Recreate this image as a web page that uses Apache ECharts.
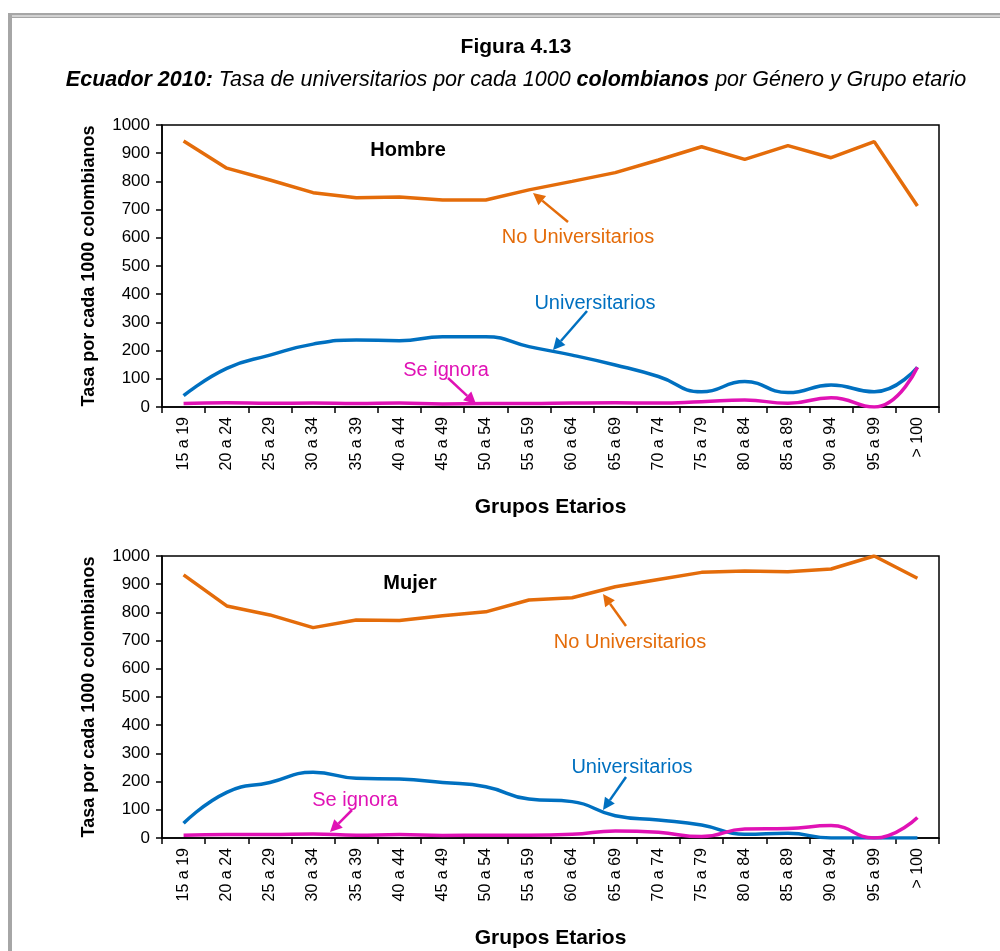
<!DOCTYPE html>
<html><head><meta charset="utf-8">
<script src="https://cdn.jsdelivr.net/npm/echarts@6/dist/echarts.min.js"></script>
<style>html,body{margin:0;padding:0;background:#fff}#c{width:1000px;height:951px}</style>
</head><body><div id="c"></div>
<script>
const categories = ['15 a 19','20 a 24','25 a 29','30 a 34','35 a 39','40 a 44','45 a 49','50 a 54','55 a 59','60 a 64','65 a 69','70 a 74','75 a 79','80 a 84','85 a 89','90 a 94','95 a 99','> 100'];
const yMin = 0, yMax = 1000, yStep = 100;

const hombreNoUniv = [943,847,805,760,742,745,734,734,770,800,831,876,923,878,927,884,941,713];
const hombreUniv   = [40,137,184,223,238,235,249,249,214,184,149,108,54,90,51,78,54,141];
const hombreIgnora = [12,15,13,14,12,14,11,12,12,14,15,14,19,25,13,33,0,141];

const mujerNoUniv  = [933,823,791,746,773,771,788,802,844,852,891,917,942,947,944,954,1000,921];
const mujerUniv    = [52,162,197,233,212,209,197,182,138,129,79,64,46,13,17,0,0,0];
const mujerIgnora  = [10,12,12,14,10,12,9,10,10,13,25,20,5,32,34,44,0,73];

const FONT = 'Arial, "Liberation Sans", sans-serif';
const C_ORANGE = '#E46C0A', C_BLUE = '#0070C0', C_MAG = '#E012B5';

function xAxisCfg(gi){
  return {
    type:'category', gridIndex:gi, data:categories, boundaryGap:true,
    axisLine:{show:true, lineStyle:{color:'#000', width:1.5}},
    axisTick:{show:true, inside:false, length:6, lineStyle:{color:'#000', width:1.5}},
    axisLabel:{rotate:90, color:'#000', fontFamily:FONT, fontSize:16, margin:10, interval:0},
    name:'Grupos Etarios', nameLocation:'middle', nameGap:90,
    nameTextStyle:{color:'#000', fontFamily:FONT, fontSize:21, fontWeight:'bold'}
  };
}
function yAxisCfg(gi){
  return {
    type:'value', gridIndex:gi, min:yMin, max:yMax, interval:yStep,
    axisLine:{show:true, lineStyle:{color:'#000', width:1.5}},
    axisTick:{show:true, inside:false, length:6, lineStyle:{color:'#000', width:1.5}},
    splitLine:{show:false},
    axisLabel:{color:'#000', fontFamily:FONT, fontSize:17, margin:12, formatter:function(v){return String(v);}},
    name:'Tasa por cada 1000 colombianos', nameLocation:'middle', nameGap:64,
    nameTextStyle:{color:'#000', fontFamily:FONT, fontSize:18, fontWeight:'bold'}
  };
}
function lineSeries(gi, data, color, smooth){
  return {type:'line', xAxisIndex:gi, yAxisIndex:gi, data:data, smooth:smooth,
    showSymbol:false, symbol:'none', silent:true,
    lineStyle:{color:color, width:3.5}, itemStyle:{color:color}};
}

function arrow(x1,y1,x2,y2,color){
  const dx=x2-x1, dy=y2-y1, L=Math.sqrt(dx*dx+dy*dy);
  const ux=dx/L, uy=dy/L, hl=12, hw=6;
  const bx=x2-ux*hl, by=y2-uy*hl;
  return [
    {type:'line', shape:{x1:x1,y1:y1,x2:bx,y2:by}, style:{stroke:color, lineWidth:2.5}, z:100},
    {type:'polygon', shape:{points:[[x2,y2],[bx-uy*hw,by+ux*hw],[bx+uy*hw,by-ux*hw]]}, style:{fill:color}, z:100}
  ];
}
function label(x,y,text,color,bold,size){
  return {type:'text', x:x, y:y, z:100, style:{text:text, fill:color, font:(bold?'bold ':'')+(size||20)+'px '+FONT, textAlign:'center', textVerticalAlign:'middle'}};
}

const graphics = [
  {type:'rect', shape:{x:8,y:13,width:992,height:2.5}, style:{fill:'#A6A6A6'}},
  {type:'rect', shape:{x:12,y:16.5,width:988,height:1.5}, style:{fill:'#A6A6A6'}},
  {type:'rect', shape:{x:8,y:13,width:4,height:938}, style:{fill:'#A6A6A6'}},
  {type:'text', x:516, y:47, style:{text:'Figura 4.13', font:'bold 21px '+FONT, fill:'#000', textAlign:'center', textVerticalAlign:'middle'}},
  {type:'text', x:516, y:80, style:{
    text:'{b|Ecuador 2010:}{i| Tasa de universitarios por cada 1000 }{b|colombianos}{i| por Género y Grupo etario}',
    textAlign:'center', textVerticalAlign:'middle',
    rich:{
      b:{font:'italic bold 21.5px '+FONT, fill:'#000'},
      i:{font:'italic 21.5px '+FONT, fill:'#000'}
    }}},
  label(408,150,'Hombre','#000',true,20),
  label(578,237,'No Universitarios',C_ORANGE,false,20),
  ...arrow(568,222,533,193,C_ORANGE),
  label(595,303,'Universitarios',C_BLUE,false,20),
  ...arrow(587,311,553,350,C_BLUE),
  label(446,370,'Se ignora',C_MAG,false,20),
  ...arrow(448,378,476,404,C_MAG),
  label(410,583,'Mujer','#000',true,20),
  label(630,642,'No Universitarios',C_ORANGE,false,20),
  ...arrow(626,626,603,594,C_ORANGE),
  label(632,767,'Universitarios',C_BLUE,false,20),
  ...arrow(626,777,603,810,C_BLUE),
  label(355,800,'Se ignora',C_MAG,false,20),
  ...arrow(352,810,330,832,C_MAG)
];

const chart = echarts.init(document.getElementById('c'), null, {renderer:'canvas'});
chart.setOption({
  animation:false,
  backgroundColor:'#fff',
  grid:[
    {left:162, top:125, width:777, height:282, show:true, borderColor:'#000', borderWidth:1.5, backgroundColor:'transparent'},
    {left:162, top:556, width:777, height:282, show:true, borderColor:'#000', borderWidth:1.5, backgroundColor:'transparent'}
  ],
  xAxis:[xAxisCfg(0), xAxisCfg(1)],
  yAxis:[yAxisCfg(0), yAxisCfg(1)],
  series:[
    lineSeries(0, hombreNoUniv, C_ORANGE, false),
    lineSeries(0, hombreUniv, C_BLUE, 0.5),
    lineSeries(0, hombreIgnora, C_MAG, 0.5),
    lineSeries(1, mujerNoUniv, C_ORANGE, false),
    lineSeries(1, mujerUniv, C_BLUE, 0.5),
    lineSeries(1, mujerIgnora, C_MAG, 0.5)
  ],
  graphic:graphics
});
</script></body></html>
